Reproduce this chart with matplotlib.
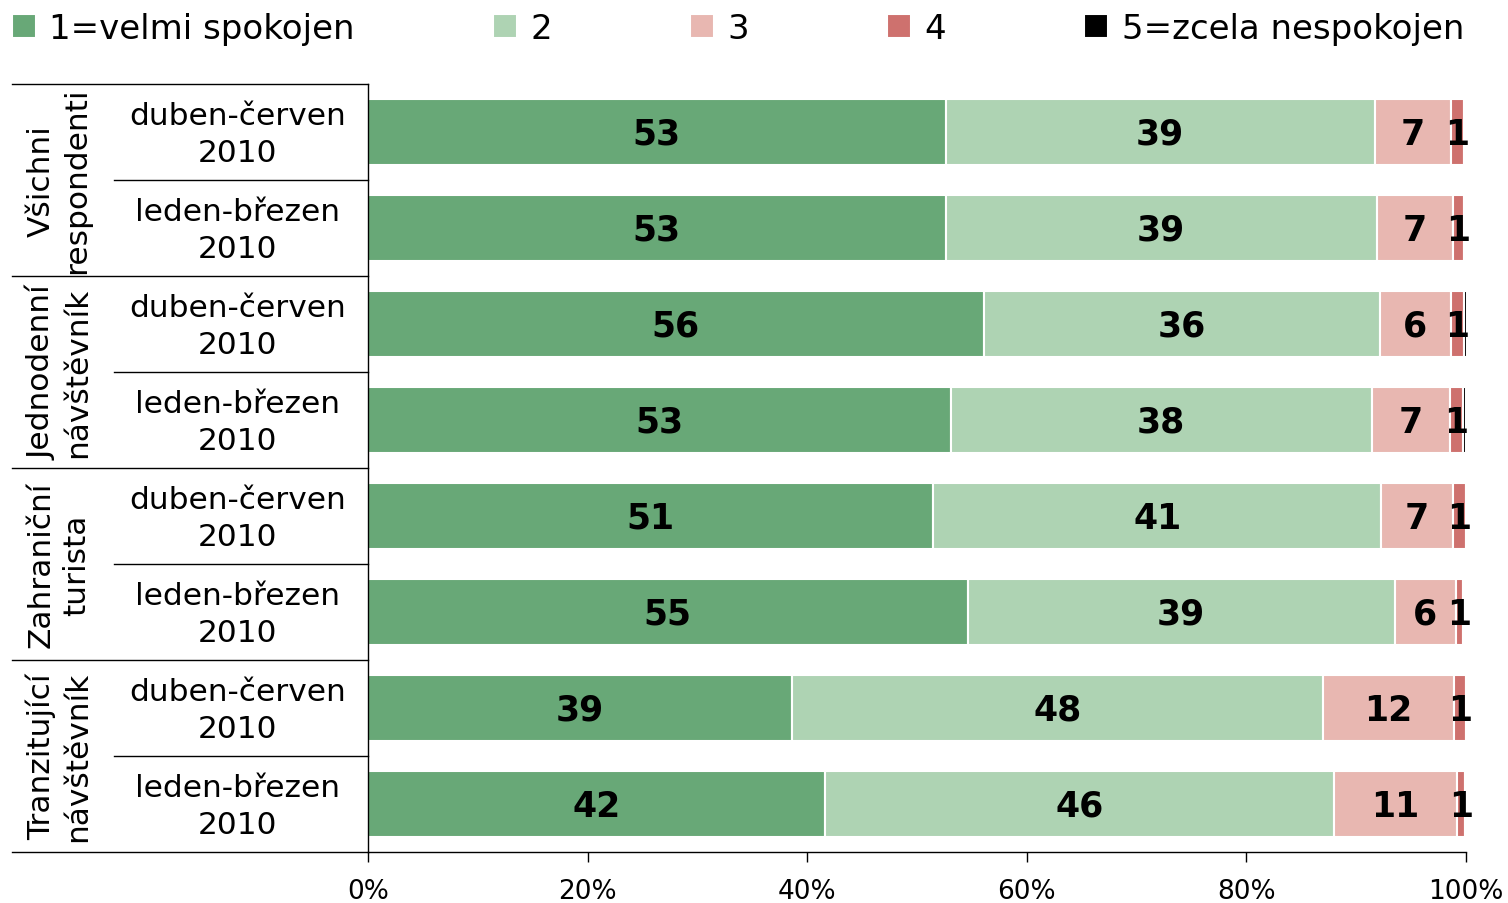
import numpy as np
import matplotlib
matplotlib.use("Agg")
import matplotlib.pyplot as plt

# data (percent)
groups = ["Všichni\nrespondenti", "Jednodenní\nnávštěvník", "Zahraniční\nturista", "Tranzitující\nnávštěvník"]
periods = ["duben-červen\n2010", "leden-březen\n2010"] * 4
series_names = ["1=velmi spokojen", "2", "3", "4", "5=zcela nespokojen"]
v1 = [52.6, 52.6, 56.1, 53.1, 51.5, 54.6, 38.6, 41.6]
v2 = [39.1, 39.3, 36.1, 38.3, 40.8, 38.9, 48.4, 46.4]
v3 = [6.9, 6.9, 6.4, 7.1, 6.5, 5.6, 11.9, 11.2]
v4 = [1.2, 1.0, 1.2, 1.2, 1.2, 0.6, 1.1, 0.7]
v5 = [0.2, 0.0, 0.3, 0.3, 0.1, 0.0, 0.0, 0.0]
labels1 = ["53", "53", "56", "53", "51", "55", "39", "42"]
labels2 = ["39", "39", "36", "38", "41", "39", "48", "46"]
labels3 = ["7", "7", "6", "7", "7", "6", "12", "11"]
labels4 = ["1"] * 8
xticks = [0, 20, 40, 60, 80, 100]

colors = ["#68A877", "#AED3B3", "#E8B7B1", "#CE716E", "#000000"]

plt.rcParams['font.family'] = ['DejaVu Sans']
fig = plt.figure(figsize=(15.08, 9.04), dpi=100)
W, H = 1508, 904
ax = fig.add_axes([368 / W, (H - 853) / H, 1098 / W, 768 / H])

y = np.arange(len(periods))
values = [v1, v2, v3, v4, v5]
texts = [labels1, labels2, labels3, labels4, None]
left = np.zeros(len(periods))
handles = []
for vals, col, name, labs in zip(values, colors, series_names, texts):
    vals = np.array(vals)
    b = ax.barh(y, vals, left=left, height=0.69, color=col, edgecolor="white", linewidth=1.5, label=name)
    handles.append(b)
    if labs is not None:
        for yi, l, v, t in zip(y, left, vals, labs):
            ax.text(l + v / 2, yi + 0.02, t, ha="center", va="center", fontsize=25, fontweight="bold", color="black")
    left = left + vals

ax.set_xlim(0, 100)
ax.set_ylim(len(periods) - 0.5, -0.5)
ax.set_yticks([])
ax.set_xticks(xticks)
ax.set_xticklabels([f"{t}%" for t in xticks], fontsize=19)
ax.tick_params(axis="x", length=7, width=1, direction="out", pad=12)
for s in ["top", "right"]:
    ax.spines[s].set_visible(False)
for s in ["left", "bottom"]:
    ax.spines[s].set_linewidth(1)
    ax.spines[s].set_color("black")

# table on the left
tr = ax.get_yaxis_transform()
x_outer = (12 - 368) / 1098
x_inner = (114 - 368) / 1098
for k in range(0, len(periods) + 1, 2):
    ax.plot([x_outer, 0], [k - 0.5, k - 0.5], transform=tr, color="black", lw=1, clip_on=False)
for k in range(1, len(periods), 2):
    ax.plot([x_inner, 0], [k - 0.5, k - 0.5], transform=tr, color="black", lw=1, clip_on=False)

x_per = (238 - 368) / 1098
for yi, p in zip(y, periods):
    ax.text(x_per, yi + 0.02, p, transform=tr, ha="center", va="center", fontsize=22.5, linespacing=1.35)

x_grp = (59 - 368) / 1098
for gi, g in enumerate(groups):
    ax.text(x_grp, 2 * gi + 0.5, g, transform=tr, ha="center", va="center", rotation=90,
            fontsize=22.5, linespacing=1.3)

fig.legend(handles=handles, labels=series_names, loc="lower left", ncol=5, mode="expand",
           bbox_to_anchor=(12 / W, (H - 46) / H, 1452 / W, 40 / H), frameon=False, fontsize=24.5,
           handlelength=0.7, handleheight=0.7, handletextpad=0.4, borderaxespad=0, borderpad=0)

fig.savefig("out.png", dpi=100)
